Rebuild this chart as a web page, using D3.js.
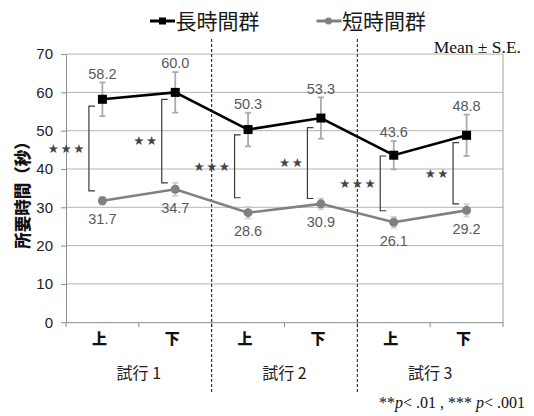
<!DOCTYPE html>
<html lang="ja">
<head>
<meta charset="utf-8">
<script src="https://cdn.jsdelivr.net/npm/d3@7"></script>
<style>
  html, body { margin: 0; padding: 0; background: #fff; }
  svg { display: block; }
</style>
</head>
<body>
<svg id="chart" width="534" height="416"></svg>
<script>
// Trials and the two measurement points inside each trial
const trials = ["試行 1", "試行 2", "試行 3"];
const positions = ["上", "下"];

// Mean task time (seconds) and standard error per group
const longMean  = [58.2, 60.0, 50.3, 53.3, 43.6, 48.8];
const longSE    = [4.4, 5.3, 4.4, 5.4, 3.7, 5.4];
const shortMean = [31.7, 34.7, 28.6, 30.9, 26.1, 29.2];
const shortSE   = [1.0, 1.7, 1.5, 1.4, 1.4, 1.6];

// Significance brackets between the groups (value range covered, and stars)
const sigUpper  = [56.4, 58.2, 48.9, 50.8, 43.4, 46.9];
const sigLower  = [34.3, 36.4, 32.5, 32.3, 29.1, 30.9];
const sigLabels = ["★★★", "★★", "★★★", "★★", "★★★", "★★"];

const yTicks = [0, 10, 20, 30, 40, 50, 60, 70];
const seriesNames = ["長時間群", "短時間群"];

const categories = trials.flatMap(t => positions.map(p => t + "|" + p));

const svg = d3.select("#chart");
const plot = { left: 66, right: 503, top: 54.1, bottom: 322.2 };

const x = d3.scaleBand().domain(categories).range([plot.left, plot.right]);
const y = d3.scaleLinear().domain([0, 70]).range([plot.bottom, plot.top]);
const cx = c => x(c) + x.bandwidth() / 2;

const CJK = "'Noto Sans CJK JP', 'Noto Sans', sans-serif";
const SANS = "'Liberation Sans', Arial, sans-serif";
const SERIF = "'Liberation Serif', 'Times New Roman', serif";

// Horizontal gridlines
svg.append("g")
  .selectAll("line")
  .data(yTicks.filter(t => t > 0))
  .join("line")
  .attr("x1", plot.left).attr("x2", plot.right)
  .attr("y1", d => y(d)).attr("y2", d => y(d))
  .attr("stroke", "#b4b4b4").attr("stroke-width", 1);

// Right border of the plot area
svg.append("line")
  .attr("x1", plot.right).attr("x2", plot.right)
  .attr("y1", y(70)).attr("y2", y(0))
  .attr("stroke", "#a0a0a0").attr("stroke-width", 1);

// Y axis
const yAxis = svg.append("g")
  .attr("transform", `translate(${plot.left},0)`)
  .call(d3.axisLeft(y).tickValues(yTicks).tickSize(5).tickPadding(8).tickSizeOuter(0));
yAxis.select(".domain").attr("stroke", "#8c8c8c");
yAxis.selectAll(".tick line").attr("stroke", "#8c8c8c");
yAxis.selectAll(".tick text")
  .attr("font-family", SANS).attr("font-size", 15).attr("fill", "#222");

// X axis: position labels under each category
const xAxis = svg.append("g")
  .attr("transform", `translate(0,${plot.bottom})`)
  .call(d3.axisBottom(x).tickSize(0).tickPadding(11).tickFormat(d => d.split("|")[1]));
xAxis.select(".domain").attr("stroke", "#8c8c8c");
xAxis.selectAll(".tick text")
  .attr("font-family", CJK).attr("font-size", 15).attr("font-weight", "900")
  .attr("fill", "#111").attr("dx", -3);

// Tick marks on category boundaries
const boundaries = categories.map(c => x(c)).concat([plot.right]);
svg.append("g")
  .selectAll("line")
  .data(boundaries)
  .join("line")
  .attr("x1", d => d).attr("x2", d => d)
  .attr("y1", plot.bottom).attr("y2", plot.bottom + 5)
  .attr("stroke", "#8c8c8c");

// Trial labels
svg.append("g")
  .selectAll("text")
  .data(trials)
  .join("text")
  .attr("x", t => (x(t + "|" + positions[0]) + x(t + "|" + positions[1]) + x.bandwidth()) / 2)
  .attr("y", 379)
  .attr("text-anchor", "middle")
  .attr("font-family", CJK).attr("font-size", 16).attr("fill", "#222")
  .text(t => t);

// Dashed separators between trials
svg.append("g")
  .selectAll("line")
  .data(trials.slice(1))
  .join("line")
  .attr("x1", t => x(t + "|" + positions[0])).attr("x2", t => x(t + "|" + positions[0]))
  .attr("y1", 39).attr("y2", 394)
  .attr("stroke", "#111").attr("stroke-width", 1).attr("stroke-dasharray", "3,2");

// Y axis title
svg.append("text")
  .attr("transform", "translate(29,191) rotate(-90)")
  .attr("text-anchor", "middle")
  .attr("font-family", CJK).attr("font-size", 16.5).attr("font-weight", "900").attr("fill", "#111")
  .text("所要時間（秒）");

// Error bars
function errorBars(means, ses, color, width, cap) {
  const g = svg.append("g").attr("stroke", color).attr("stroke-width", width);
  categories.forEach((c, i) => {
    const hi = y(means[i] + ses[i]), lo = y(means[i] - ses[i]), px = cx(c);
    g.append("line").attr("x1", px).attr("x2", px).attr("y1", hi).attr("y2", lo);
    g.append("line").attr("x1", px - cap).attr("x2", px + cap).attr("y1", hi).attr("y2", hi);
    g.append("line").attr("x1", px - cap).attr("x2", px + cap).attr("y1", lo).attr("y2", lo);
  });
}
errorBars(longMean, longSE, "#ababab", 1.8, 3);
errorBars(shortMean, shortSE, "#cfcfcf", 1.8, 3);

// Significance brackets and stars
const bracketG = svg.append("g");
categories.forEach((c, i) => {
  const bx = cx(c) - 13.5;
  const top = y(sigUpper[i]), bot = y(sigLower[i]);
  bracketG.append("path")
    .attr("d", `M${bx + 6},${top}H${bx}V${bot}H${bx + 6}`)
    .attr("fill", "none").attr("stroke", "#3a3a3a").attr("stroke-width", 1.2);
  bracketG.append("text")
    .attr("x", bx - 3).attr("y", (top + bot) / 2)
    .attr("dy", "0.35em")
    .attr("text-anchor", "end")
    .attr("font-family", "'DejaVu Sans', sans-serif").attr("font-size", 12.5)
    .attr("letter-spacing", 1.5)
    .attr("fill", "#444")
    .text(sigLabels[i]);
});

// Series lines
const line = vals => d3.line().x((d, i) => cx(categories[i])).y(d => y(d))(vals);
svg.append("path").attr("d", line(shortMean))
  .attr("fill", "none").attr("stroke", "#808080").attr("stroke-width", 2.6);
svg.append("path").attr("d", line(longMean))
  .attr("fill", "none").attr("stroke", "#000").attr("stroke-width", 2.6);

// Markers
svg.append("g").selectAll("circle")
  .data(shortMean).join("circle")
  .attr("cx", (d, i) => cx(categories[i])).attr("cy", d => y(d))
  .attr("r", 4.5).attr("fill", "#808080");
svg.append("g").selectAll("rect")
  .data(longMean).join("rect")
  .attr("x", (d, i) => cx(categories[i]) - 4.5).attr("y", d => y(d) - 4.5)
  .attr("width", 9).attr("height", 9).attr("fill", "#000");

// Value labels
svg.append("g").selectAll("text")
  .data(longMean).join("text")
  .attr("x", (d, i) => cx(categories[i])).attr("y", (d, i) => y(d + longSE[i]) - 3.8)
  .attr("text-anchor", "middle")
  .attr("font-family", SANS).attr("font-size", 14.5).attr("fill", "#595959")
  .text(d => d.toFixed(1));
svg.append("g").selectAll("text")
  .data(shortMean).join("text")
  .attr("x", (d, i) => cx(categories[i])).attr("y", d => y(d) + 23.5)
  .attr("text-anchor", "middle")
  .attr("font-family", SANS).attr("font-size", 14.5).attr("fill", "#595959")
  .text(d => d.toFixed(1));

// Legend
const legend = svg.append("g");
const legendItems = [
  { name: seriesNames[0], x0: 150, color: "#000", marker: "square" },
  { name: seriesNames[1], x0: 316.5, color: "#808080", marker: "circle" }
];
legendItems.forEach(item => {
  const ly = 21;
  legend.append("line")
    .attr("x1", item.x0).attr("x2", item.x0 + 25)
    .attr("y1", ly).attr("y2", ly)
    .attr("stroke", item.color).attr("stroke-width", 3);
  if (item.marker === "square") {
    legend.append("rect").attr("x", item.x0 + 12.5 - 3.5).attr("y", ly - 3.5)
      .attr("width", 7).attr("height", 7).attr("fill", item.color);
  } else {
    legend.append("circle").attr("cx", item.x0 + 12).attr("cy", ly).attr("r", 3.5)
      .attr("fill", item.color);
  }
  legend.append("text")
    .attr("x", item.x0 + 25.5).attr("y", ly).attr("dy", "0.36em")
    .attr("font-family", CJK).attr("font-size", 21).attr("fill", "#1a1a1a")
    .text(item.name);
});

// Annotations
svg.append("text")
  .attr("x", 521).attr("y", 53)
  .attr("text-anchor", "end")
  .attr("font-family", SERIF).attr("font-size", 17.5).attr("fill", "#111")
  .text("Mean ± S.E.");

const note = svg.append("text")
  .attr("x", 525).attr("y", 408)
  .attr("text-anchor", "end")
  .attr("font-family", SERIF).attr("font-size", 16).attr("fill", "#111");
note.append("tspan").text("**");
note.append("tspan").attr("font-style", "italic").text("p");
note.append("tspan").text("< .01 , *** ");
note.append("tspan").attr("font-style", "italic").text("p");
note.append("tspan").text("< .001");
</script>
</body>
</html>
